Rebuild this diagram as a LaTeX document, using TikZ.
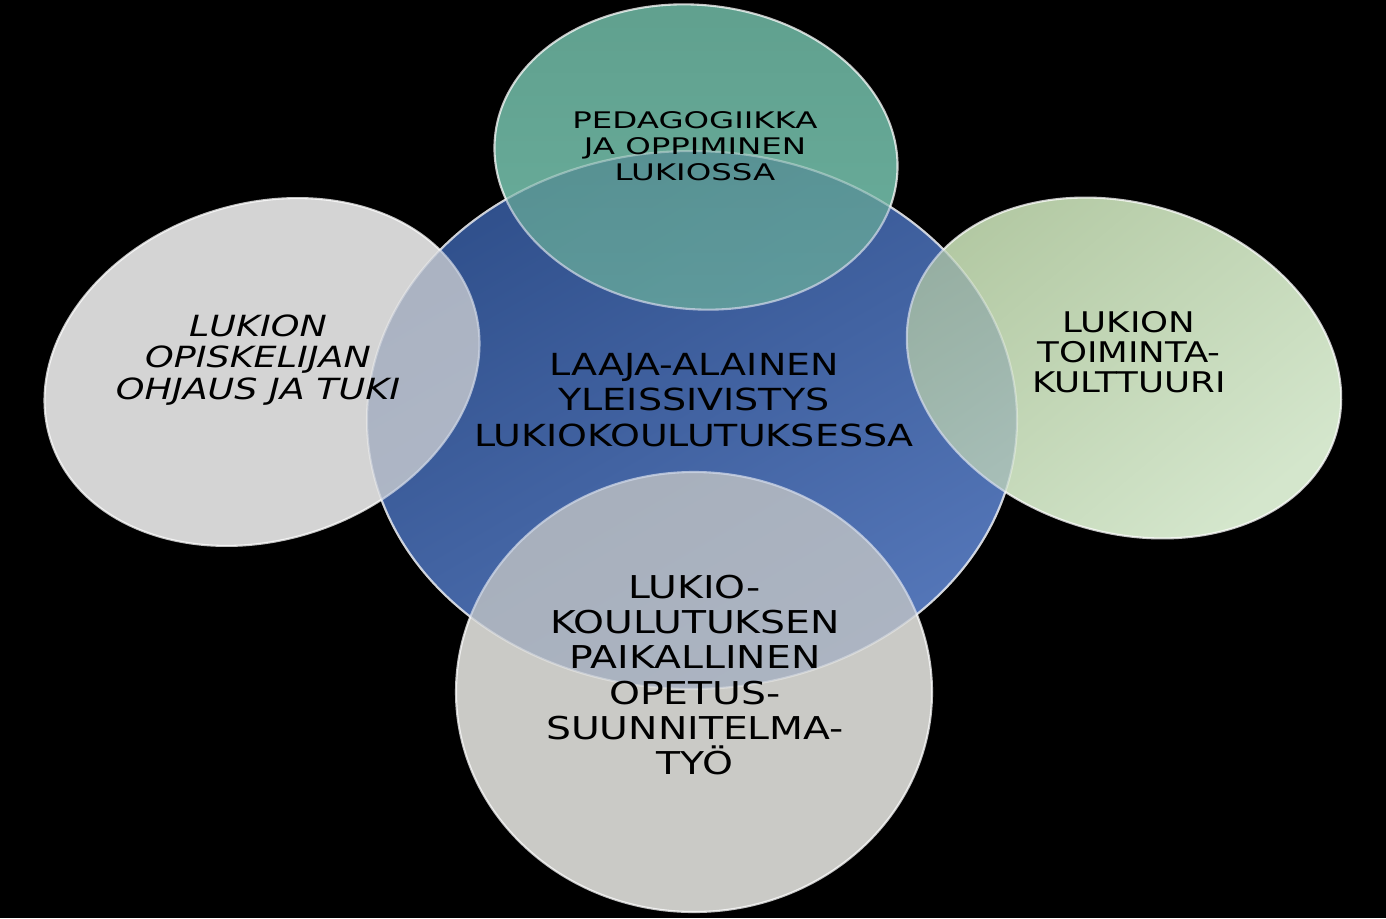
\documentclass[tikz,border=0pt]{standalone}
\usepackage{fontspec}
\setmainfont{DejaVu Sans}[FakeStretch=1.25]
\newfontfamily\pedafont{DejaVu Sans}[FakeStretch=1.42]
\usetikzlibrary{shapes.geometric}

\definecolor{coreTop}{HTML}{30508C}
\definecolor{coreBot}{HTML}{5476B8}
\definecolor{pedaFill}{HTML}{60A08E}
\definecolor{pedaLow}{HTML}{6AAE9C}
\definecolor{guideFill}{HTML}{D4D4D4}
\definecolor{cultTop}{HTML}{B2C8A2}
\definecolor{cultBot}{HTML}{D4E6CC}
\definecolor{planFill}{HTML}{CACAC6}

\begin{document}
\begin{tikzpicture}[
    bubble/.style={ellipse, inner sep=0pt, draw=white, line width=1.2pt, draw opacity=0.75},
    corebubble/.style={bubble, top color=coreTop, bottom color=coreBot, shading angle=30,
          minimum width=13cm, minimum height=10.76cm},
    caption/.style={align=center, text=black, inner sep=0pt}]
    \fill[black] (0,0) rectangle (27.72,-18.36);
    \useasboundingbox (0,0) rectangle (27.72,-18.36);

    % ellipses
    \node[corebubble] (core) at (13.84,-8.40) {};
    \node[bubble, top color=pedaFill, bottom color=pedaLow, rotate=-6,
          minimum width=8.08cm, minimum height=6.08cm] (peda) at (13.92,-3.14) {};
    \node[bubble, fill=guideFill, rotate=18,
          minimum width=8.88cm, minimum height=6.72cm] (guide) at (5.24,-7.44) {};
    \node[bubble, top color=cultTop, bottom color=cultBot, shading angle=40, rotate=-18,
          minimum width=8.88cm, minimum height=6.56cm] (cult) at (22.48,-7.36) {};
    \node[bubble, fill=planFill,
          minimum width=9.52cm, minimum height=8.80cm] (plan) at (13.88,-13.84) {};
    % blue shows through the overlaps
    \node[corebubble, fill opacity=0.25, draw opacity=0.35] at (core) {};

    % texts
    \node[caption, font=\fontsize{17.3}{20.4}\selectfont] (core_t) at (13.88,-8.0)
        {LAAJA-ALAINEN\\YLEISSIVISTYS\\LUKIOKOULUTUKSESSA};
    \node[caption, font=\pedafont\fontsize{13}{14.7}\selectfont] (peda_t) at (13.9,-2.92)
        {PEDAGOGIIKKA\\JA OPPIMINEN\\LUKIOSSA};
    \node[caption, font=\fontsize{16.6}{17.9}\selectfont\itshape] (guide_t) at (5.16,-7.2)
        {LUKION\\OPISKELIJAN\\OHJAUS JA TUKI};
    \node[caption, font=\fontsize{16.2}{17}\selectfont] (cult_t) at (22.58,-7.04)
        {LUKION\\TOIMINTA-\\KULTTUURI};
    \node[caption, font=\fontsize{17.9}{20}\selectfont] (plan_t) at (13.9,-13.5)
        {LUKIO-\\KOULUTUKSEN\\PAIKALLINEN\\OPETUS-\\SUUNNITELMA-\\TYÖ};
\end{tikzpicture}
\end{document}
